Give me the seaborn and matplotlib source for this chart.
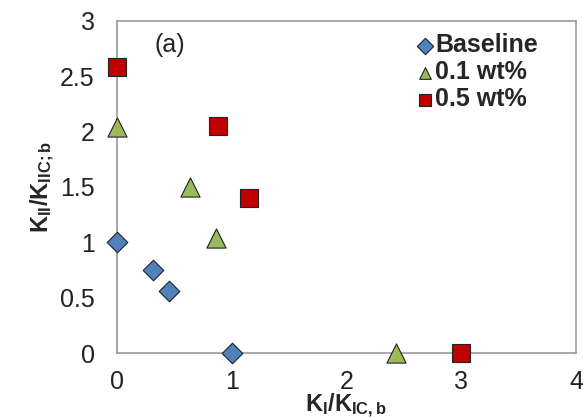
import pandas as pd
import matplotlib.pyplot as plt
import seaborn as sns

# -----------------------------
# data
# -----------------------------
base_x = [0.0, 0.31, 0.45, 1.0]
base_y = [1.0, 0.75, 0.56, 0.0]
wt01_x = [0.0, 0.64, 0.86, 2.43]
wt01_y = [2.04, 1.50, 1.04, 0.0]
wt05_x = [0.0, 0.88, 1.15, 3.0]
wt05_y = [2.58, 2.05, 1.40, 0.0]

groups = ["Baseline", "0.1 wt%", "0.5 wt%"]

df = pd.concat([
    pd.DataFrame({"x": base_x, "y": base_y, "group": "Baseline"}),
    pd.DataFrame({"x": wt01_x, "y": wt01_y, "group": "0.1 wt%"}),
    pd.DataFrame({"x": wt05_x, "y": wt05_y, "group": "0.5 wt%"}),
], ignore_index=True)

sns.set_style("white")
plt.rcParams["font.family"] = ["Liberation Sans", "DejaVu Sans"]
plt.rcParams["mathtext.fontset"] = "custom"
plt.rcParams["mathtext.rm"] = "Liberation Sans"
plt.rcParams["mathtext.bf"] = "Liberation Sans:bold"

palette = {"Baseline": "#4F81BD", "0.1 wt%": "#9BBB59", "0.5 wt%": "#C00000"}
markers = {"Baseline": "D", "0.1 wt%": "^", "0.5 wt%": "s"}
sizes = {"Baseline": 110, "0.1 wt%": 190, "0.5 wt%": 170}

fig = plt.figure(figsize=(5.83, 4.19), dpi=100)
ax = fig.add_axes([0.2007, 0.1575, 0.7873, 0.7925])

for g in groups:
    sub = df[df["group"] == g]
    sns.scatterplot(data=sub, x="x", y="y", ax=ax, color=palette[g],
                    marker=markers[g], s=sizes[g], edgecolor="#222222",
                    linewidth=0.8, label=g, zorder=3, clip_on=False)

ax.set_xlim(0, 4)
ax.set_ylim(0, 3)
ax.set_xticks([0, 1, 2, 3, 4])
ax.set_yticks([0, 0.5, 1, 1.5, 2, 2.5, 3])
ax.set_xticklabels(["0", "1", "2", "3", "4"])
ax.set_yticklabels(["0", "0.5", "1", "1.5", "2", "2.5", "3"])
ax.tick_params(axis="both", labelsize=18, colors="#222222", length=4,
               color="#aaaaaa")
ax.tick_params(axis="x", direction="in", pad=12)
ax.tick_params(axis="y", direction="out", pad=12)
for sp in ax.spines.values():
    sp.set_color("#999999")
    sp.set_linewidth(1.2)

ax.set_xlabel(r"$\mathbf{K_{I}/K_{IC,b}}$", fontsize=17, labelpad=-1)
ax.set_ylabel(r"$\mathbf{K_{II}/K_{IIC;b}}$", fontsize=17, labelpad=2)

ax.text(0.33, 2.78, "(a)", fontsize=18, ha="left", va="center")

leg = ax.legend(loc="upper right", frameon=False, prop={"weight": "bold", "size": 18},
                handletextpad=-0.1, labelspacing=0.12, borderaxespad=0.3,
                handlelength=1.0, bbox_to_anchor=(0.955, 1.015))
for h in leg.legend_handles:
    h.set_sizes([70])

plt.savefig("out.png", dpi=100)
plt.close()
